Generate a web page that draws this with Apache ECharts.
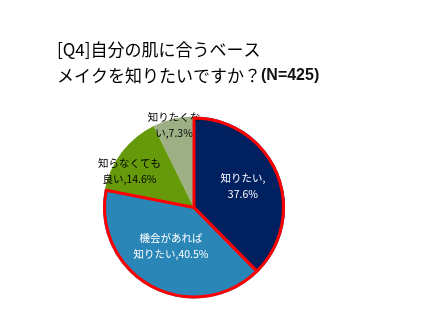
<!DOCTYPE html>
<html>
<head>
<meta charset="utf-8">
<script src="https://cdn.jsdelivr.net/npm/echarts@6/dist/echarts.min.js"></script>
<style>html,body{margin:0;padding:0;background:#fff;}#c{width:425px;height:327px;}</style>
</head>
<body>
<div id="c"></div>
<script>
const categories = ['知りたい', '機会があれば知りたい', '知らなくても良い', '知りたくない'];
const values = [37.6, 40.5, 14.6, 7.3];
const labelTexts = ['知りたい,\n37.6%', '機会があれば\n知りたい,40.5%', '知らなくても\n良い,14.6%', '知りたくな\nい,7.3%'];

const colors = ['#002060', '#2B86B8', '#669A0A', '#9CAF85'];
const labelColors = ['#ffffff', '#ffffff', '#000000', '#000000'];
const redBorder = [true, true, false, false];
const labelShift = [[4, -3], [0, -4], [-26, -7], [-9, -35]];

const chart = echarts.init(document.getElementById('c'), null, {renderer: 'canvas'});
const font = '"Noto Sans CJK JP", "Noto Sans", sans-serif';

const fillData = categories.map((n, i) => ({
  name: n, value: values[i],
  itemStyle: {color: colors[i], borderWidth: 0},
  label: {color: labelColors[i], formatter: labelTexts[i]}
}));
const borderData = categories.map((n, i) => ({
  name: n, value: values[i],
  itemStyle: redBorder[i]
    ? {color: 'rgba(0,0,0,0)', borderColor: '#FF0000', borderWidth: 3}
    : {color: 'rgba(0,0,0,0)', borderWidth: 0}
}));

chart.setOption({
  animation: false,
  backgroundColor: '#ffffff',
  title: {
    text: '[Q4]自分の肌に合うベース\nメイクを知りたいですか？{b|(N=425)}',
    left: 52, top: 32,
    textStyle: {
      fontFamily: font, fontSize: 17, fontWeight: 'normal', color: '#000', lineHeight: 26,
      rich: {b: {fontFamily: '"Liberation Sans", Arial, sans-serif', fontSize: 16, fontWeight: 'bold', color: '#111', lineHeight: 26}}
    }
  },
  series: [
    {
      type: 'pie',
      center: [194, 207.5],
      radius: [0, 91],
      startAngle: 90,
      clockwise: true,
      silent: true,
      label: {
        show: true, position: 'inside',
        fontFamily: font, fontSize: 10.5, lineHeight: 16, align: 'center'
      },
      labelLine: {show: false},
      labelLayout: function (p) {
        const s = labelShift[p.dataIndex];
        return {dx: s[0], dy: s[1]};
      },
      data: fillData
    },
    {
      type: 'pie',
      center: [194, 207.5],
      radius: [0, 89.5],
      startAngle: 90,
      clockwise: true,
      silent: true,
      z: 3,
      label: {show: false},
      labelLine: {show: false},
      data: borderData
    }
  ]
});
</script>
</body>
</html>
